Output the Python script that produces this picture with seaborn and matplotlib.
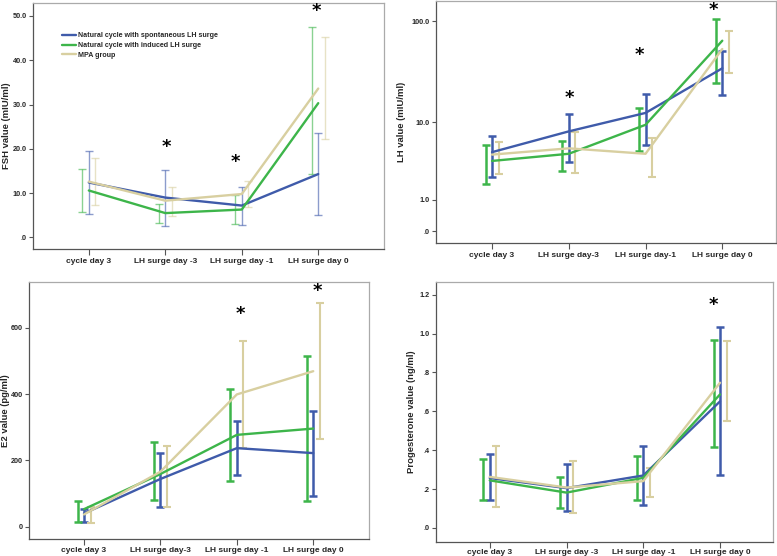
import numpy as np
import pandas as pd
import matplotlib
matplotlib.use("Agg")
import matplotlib.pyplot as plt
import seaborn as sns

sns.set_style("white")
plt.rcParams['font.family'] = ['Liberation Sans', 'DejaVu Sans']

groups = ["Natural cycle with spontaneous LH surge",
          "Natural cycle with induced LH surge",
          "MPA group"]
colors = ["#3F5BAA", "#3DB54A", "#D8CFA0"]

cats_fsh = ["cycle day 3", "LH surge day -3", "LH surge day -1", "LH surge day 0"]
cats_lh = ["cycle day 3", "LH surge day-3", "LH surge day-1", "LH surge day 0"]
cats_e2 = ["cycle day 3", "LH surge day-3", "LH surge day -1", "LH surge day 0"]
cats_p4 = ["cycle day 3", "LH surge day -3", "LH surge day -1", "LH surge day 0"]

# FSH
fsh_spont_mean = [12.4, 9.0, 7.2, 14.3]
fsh_spont_lo = [5.3, 2.7, 2.9, 5.1]
fsh_spont_hi = [19.6, 15.3, 11.5, 23.6]
fsh_ind_mean = [10.6, 5.5, 6.3, 30.3]
fsh_ind_lo = [5.7, 3.2, 3.1, 14.3]
fsh_ind_hi = [15.5, 7.6, 9.5, 47.5]
fsh_mpa_mean = [12.6, 8.3, 9.8, 33.6]
fsh_mpa_lo = [7.4, 4.8, 6.8, 22.3]
fsh_mpa_hi = [17.9, 11.5, 12.8, 45.2]
fsh_star_x = [1.02, 1.92, 2.97]
fsh_star_y = [20.4, 17.0, 51.0]

# LH
lh_spont_mean = [4.7, 8.0, 12.5, 35.0]
lh_spont_lo = [2.3, 3.6, 5.7, 19.2]
lh_spont_hi = [7.1, 12.1, 19.3, 51.3]
lh_ind_mean = [3.7, 4.5, 9.4, 65.0]
lh_ind_lo = [1.8, 2.8, 4.8, 25.3]
lh_ind_hi = [5.6, 6.3, 14.1, 105.6]
lh_mpa_mean = [4.4, 5.2, 4.5, 54.0]
lh_mpa_lo = [2.5, 2.6, 2.3, 31.3]
lh_mpa_hi = [6.1, 7.9, 6.7, 81.4]
lh_star_x = [1.01, 1.92, 2.88]
lh_star_y = [17.7, 47.0, 130.0]

# E2
e2_spont_mean = [40, 144, 237, 222]
e2_spont_lo = [14, 61, 156, 92]
e2_spont_hi = [54, 223, 319, 350]
e2_ind_mean = [53, 159, 277, 296]
e2_ind_lo = [15, 81, 137, 79]
e2_ind_hi = [77, 256, 416, 515]
e2_mpa_mean = [37, 166, 399, 469]
e2_mpa_lo = [11, 59, 236, 265]
e2_mpa_hi = [58, 242, 560, 676]
e2_star_x = [2.04, 3.06]
e2_star_y = [642, 711]

# Progesterone
p4_spont_mean = [0.257, 0.205, 0.270, 0.651]
p4_spont_lo = [0.142, 0.085, 0.118, 0.275]
p4_spont_hi = [0.383, 0.327, 0.420, 1.033]
p4_ind_mean = [0.245, 0.182, 0.258, 0.687]
p4_ind_lo = [0.142, 0.101, 0.142, 0.417]
p4_ind_hi = [0.356, 0.262, 0.371, 0.968]
p4_mpa_mean = [0.263, 0.208, 0.241, 0.747]
p4_mpa_lo = [0.110, 0.075, 0.159, 0.551]
p4_mpa_hi = [0.424, 0.347, 0.311, 0.961]
p4_star_x = [2.91]
p4_star_y = [1.147]

W, H = 777.0, 556.0
fig = plt.figure(figsize=(7.77, 5.56), dpi=100)


def px_axes(l, t, r, b):
    return fig.add_axes([l / W, 1 - b / H, (r - l) / W, (b - t) / H])


ax1 = px_axes(33, 3, 384, 249)
ax2 = px_axes(436, 1, 776, 243)
ax3 = px_axes(29, 282, 369, 539)
ax4 = px_axes(436, 282, 773, 542)

offsets = [0.0, -0.085, 0.085]
tick_fs = 5.2
cat_fs = 6.0
lab_fs = 6.8


def draw(ax, cats, means, los, his, stars_x, stars_y, ylabel, yticks, ylabels,
         ylim, xlim, bar_lw, bar_alpha, label_x_px, xpad=2.5, legend=False):
    rows = []
    for g, m in zip(groups, means):
        for i, c in enumerate(cats):
            rows.append({"group": g, "pos": i, "value": m[i]})
    df = pd.DataFrame(rows)
    for k, (m, lo, hi) in enumerate(zip(means, los, his)):
        x = np.arange(len(cats)) + offsets[k]
        m = np.asarray(m, float)
        err = np.vstack([m - np.asarray(lo, float), np.asarray(hi, float) - m])
        ax.errorbar(x, m, yerr=err, fmt="none", ecolor=colors[k],
                    elinewidth=bar_lw[k], capsize=2.8, capthick=bar_lw[k],
                    alpha=bar_alpha, zorder=2)
    sns.lineplot(data=df, x="pos", y="value", hue="group", hue_order=groups,
                 palette=colors, linewidth=1.7, ax=ax, legend=legend,
                 errorbar=None, sort=False, zorder=3)
    for sx, sy in zip(stars_x, stars_y):
        ax.text(sx, sy, "*", ha="center", va="center", fontsize=13,
                fontweight="bold", color="black",
                family=["DejaVu Sans"], zorder=5)
    ax.set_xlim(*xlim)
    ax.set_ylim(*ylim)
    ax.set_xticks(range(len(cats)))
    ax.set_xticklabels(cats, fontsize=cat_fs, fontweight="bold")
    ax.set_yticks(yticks)
    ax.set_yticklabels(ylabels, fontsize=tick_fs, fontweight="bold")
    ax.set_xlabel("")
    ax.set_ylabel(ylabel, fontsize=lab_fs, fontweight="bold")
    bb = ax.get_position()
    ax_w_px = bb.width * W
    ax_l_px = bb.x0 * W
    ax.yaxis.set_label_coords((label_x_px + 4.5 - ax_l_px) / ax_w_px, 0.5)
    ax.minorticks_off()
    for s in ["left", "bottom"]:
        ax.spines[s].set_color("#555555")
        ax.spines[s].set_linewidth(0.9)
    for s in ["top", "right"]:
        ax.spines[s].set_color("#AAAAAA")
        ax.spines[s].set_linewidth(0.9)
    ax.tick_params(axis="both", which="major", direction="out", length=3,
                   width=0.8, color="#555555", pad=1.5, bottom=True, left=True)
    ax.tick_params(axis="x", length=4, pad=xpad)


draw(ax1, cats_fsh,
     [fsh_spont_mean, fsh_ind_mean, fsh_mpa_mean],
     [fsh_spont_lo, fsh_ind_lo, fsh_mpa_lo],
     [fsh_spont_hi, fsh_ind_hi, fsh_mpa_hi],
     fsh_star_x, fsh_star_y, "FSH value (mIU/ml)",
     [0, 10, 20, 30, 40, 50], [".0", "10.0", "20.0", "30.0", "40.0", "50.0"],
     (-2.6, 52.9), (-0.73, 3.86), [1.0, 1.0, 1.0], 0.6, 6, legend="auto")

leg = ax1.get_legend()
if leg is not None:
    leg.remove()
handles = [plt.Line2D([], [], color=c, lw=1.7) for c in colors]
ax1.legend(handles, groups, loc="upper left", bbox_to_anchor=(0.083, 0.882),
           frameon=False, prop={"weight": "bold", "size": 5.1},
           handlelength=2.0, handletextpad=0.25, labelspacing=0.42,
           borderaxespad=0, borderpad=0)

ax2.set_yscale("function", functions=(lambda y: np.log10(np.clip(y + 1, 1e-6, None)),
                                      lambda y: 10 ** y - 1))
draw(ax2, cats_lh,
     [lh_spont_mean, lh_ind_mean, lh_mpa_mean],
     [lh_spont_lo, lh_ind_lo, lh_mpa_lo],
     [lh_spont_hi, lh_ind_hi, lh_mpa_hi],
     lh_star_x, lh_star_y, "LH value (mIU/ml)",
     [0, 1, 10, 100], [".0", "1.0", "10.0", "100.0"],
     (-0.226, 157.0), (-0.73, 3.70), [1.8, 1.8, 1.5], 1.0, 401)

draw(ax3, cats_e2,
     [e2_spont_mean, e2_ind_mean, e2_mpa_mean],
     [e2_spont_lo, e2_ind_lo, e2_mpa_lo],
     [e2_spont_hi, e2_ind_hi, e2_mpa_hi],
     e2_star_x, e2_star_y, "E2 value (pg/ml)",
     [0, 200, 400, 600], ["0", "200", "400", "600"],
     (-37, 738), (-0.72, 3.73), [1.8, 1.8, 1.5], 1.0, 5.5, xpad=1.5)

draw(ax4, cats_p4,
     [p4_spont_mean, p4_ind_mean, p4_mpa_mean],
     [p4_spont_lo, p4_ind_lo, p4_mpa_lo],
     [p4_spont_hi, p4_ind_hi, p4_mpa_hi],
     p4_star_x, p4_star_y, "Progesterone value (ng/ml)",
     [0, 0.2, 0.4, 0.6, 0.8, 1.0, 1.2],
     [".0", ".2", ".4", ".6", ".8", "1.0", "1.2"],
     (-0.072, 1.265), (-0.70, 3.69), [1.8, 1.8, 1.5], 1.0, 411, xpad=1.0)

fig.savefig("out.png", dpi=100)
